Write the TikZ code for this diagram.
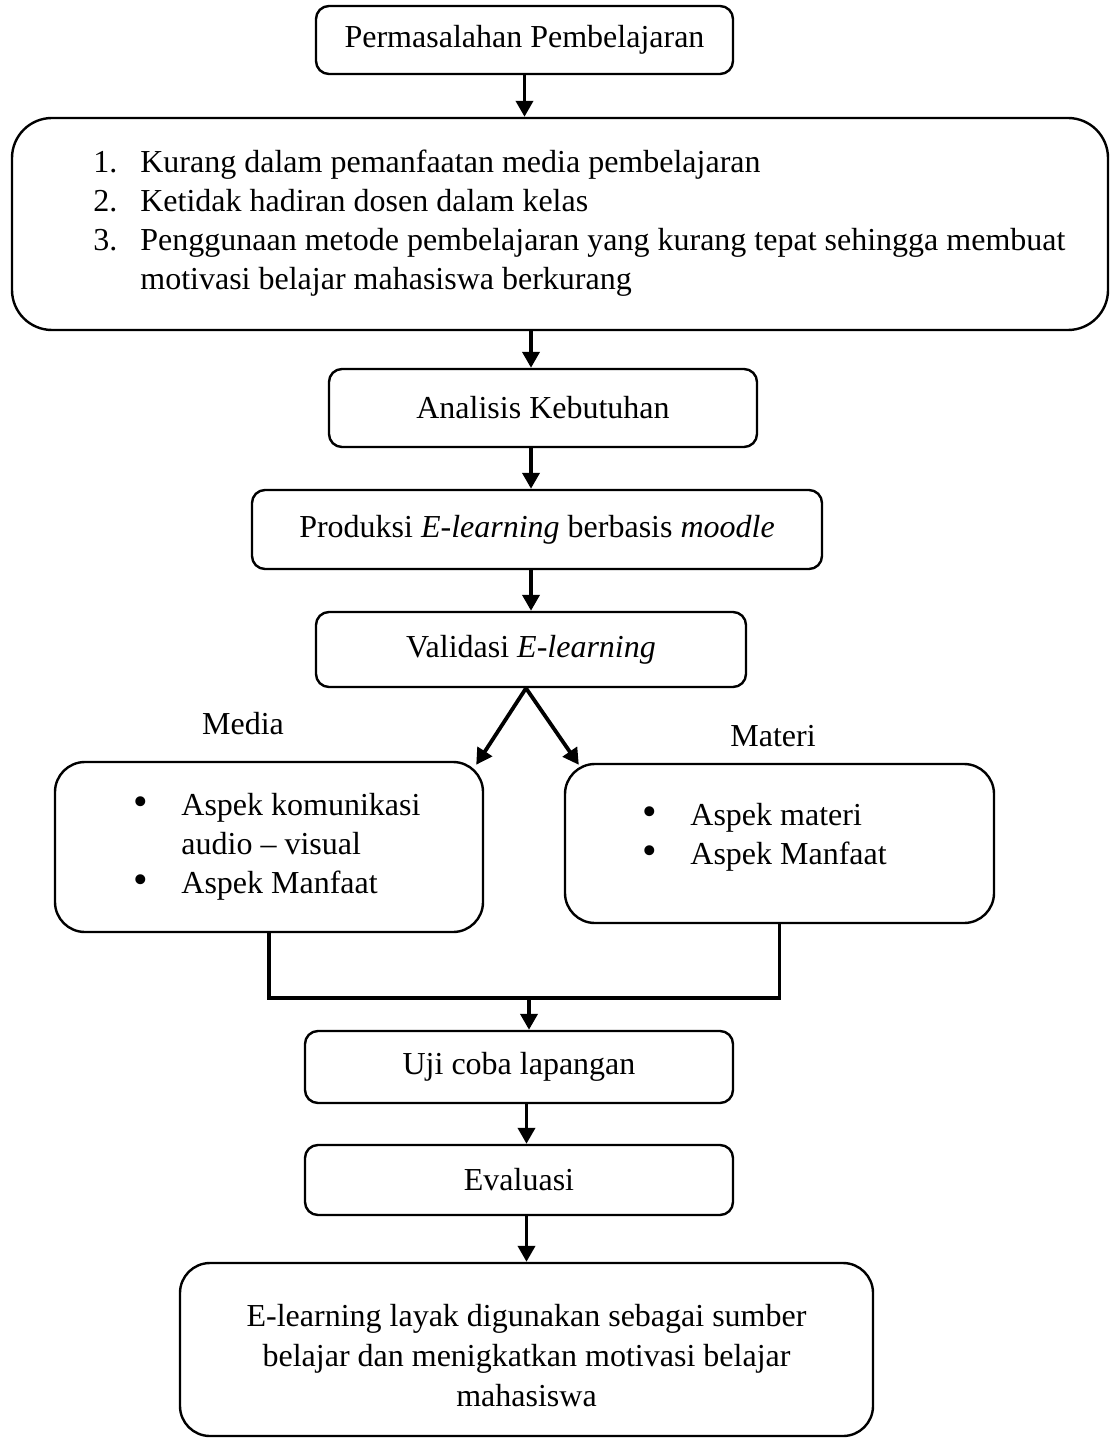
\documentclass[tikz,border=0pt]{standalone}
\usepackage{fontspec}
\setmainfont{Liberation Serif}
\usetikzlibrary{arrows.meta,calc,positioning}

\newcommand{\bulletmark}{\makebox[24pt][l]{\scalebox{1.3}{\textbullet}}}

\begin{document}
\begin{tikzpicture}[x=0.5pt,y=-0.5pt]

\tikzset{stepnode/.style={draw,line width=1.2pt,rounded corners=6.5pt,inner sep=0pt,align=center,font=\fontsize{16}{20}\selectfont},
bignode/.style={stepnode,rounded corners=20pt},
listnode/.style={stepnode,rounded corners=15pt},
listtext/.style={inner sep=0pt,anchor=north west,align=left,font=\fontsize{16}{19.5}\selectfont},
flow/.style={line width=1.9pt,-{Triangle[width=8.5pt,length=8pt]}},
joint/.style={line width=1.9pt}}

\useasboundingbox (0,0) rectangle (1113,1438);

% Main flow boxes
\node (masalah) [stepnode,minimum width=208.5pt,minimum height=34pt] at (524.5,40) {Permasalahan Pembelajaran};
\node (daftar) [bignode,minimum width=548pt,minimum height=106pt] at (560,224) {};
\node (analisis) [stepnode,minimum width=214pt,minimum height=39pt] at (543,408) {Analisis Kebutuhan};
\node (produksi) [stepnode,minimum width=285pt,minimum height=39.5pt] at (537,529.5) {Produksi \textit{E-learning} berbasis \textit{moodle}};
\node (validasi) [stepnode,minimum width=215pt,minimum height=37.5pt] at (531,649.5) {Validasi \textit{E-learning}};
\node (media) [listnode,minimum width=214pt,minimum height=85pt] at (269,847) {};
\node (materi) [listnode,minimum width=214.5pt,minimum height=79.5pt] at (779.5,843.5) {};
\node (uji) [stepnode,minimum width=214pt,minimum height=36pt] at (519,1067) {Uji coba lapangan};
\node (evaluasi) [stepnode,minimum width=214pt,minimum height=35pt] at (519,1180) {Evaluasi};
\node (hasil) [listnode,minimum width=346.5pt,minimum height=86.5pt] at (526.5,1349.5) {\rule{0pt}{17pt}E-learning layak digunakan sebagai sumber\\belajar dan menigkatkan motivasi belajar\\mahasiswa};

% List texts
\node (daftarText) [listtext] at (93,150) {\makebox[23.5pt][l]{1.}Kurang dalam pemanfaatan media pembelajaran\\
\makebox[23.5pt][l]{2.}Ketidak hadiran dosen dalam kelas\\
\makebox[23.5pt][l]{3.}Penggunaan metode pembelajaran yang kurang tepat sehingga membuat\\
\hspace*{23.5pt}motivasi belajar mahasiswa berkurang};
\node (mediaText) [listtext] at (133,793) {\bulletmark Aspek komunikasi\\
\hspace*{24pt}audio -- visual\\
\bulletmark Aspek Manfaat};
\node (materiText) [listtext] at (642,803) {\bulletmark Aspek materi\\
\bulletmark Aspek Manfaat};

% Branch labels
\node (mediaLabel) [font=\fontsize{16}{20}\selectfont] at (243,724) {Media};
\node (materiLabel) [font=\fontsize{16}{20}\selectfont] at (773,736) {Materi};

% Arrows
\draw[flow] (masalah.south) -- (daftar.north -| masalah.south);
\draw[flow] (daftar.south -| validasi.north) -- (analisis.north -| validasi.north);
\draw[flow] (analisis.south -| validasi.north) -- (produksi.north -| validasi.north);
\draw[flow] (produksi.south -| validasi.north) -- (validasi.north);
\draw[flow] ($(validasi.south)+(-5,0)$) -- ($(media.north east)+(-8,4)$);
\draw[flow] ($(validasi.south)+(-5,0)$) -- ($(materi.north west)+(15,2)$);

% Joining lines
\draw[joint] (media.south) -- ++(0,65) -| (materi.south);
\coordinate (gabung) at (529,997);
\draw[flow] (gabung) -- (uji.north -| gabung);
\draw[flow] (uji.south -| hasil.north) -- (evaluasi.north -| hasil.north);
\draw[flow] (evaluasi.south -| hasil.north) -- (hasil.north);

\end{tikzpicture}
\end{document}
